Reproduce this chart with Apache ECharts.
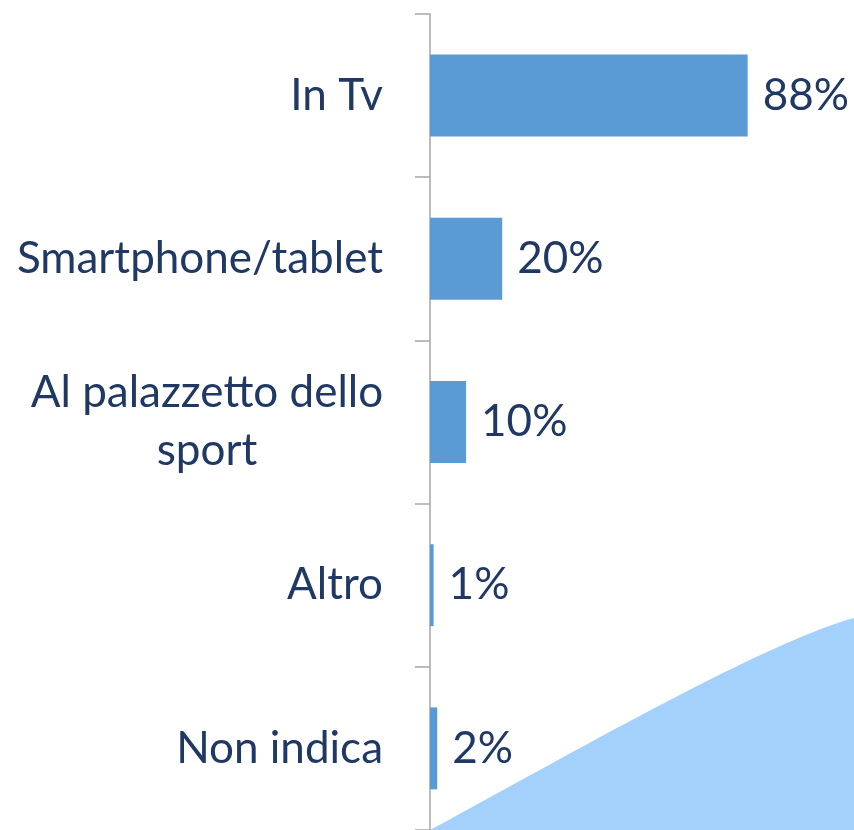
<!DOCTYPE html>
<html>
<head>
<meta charset="utf-8">
<script src="https://cdn.jsdelivr.net/npm/echarts@6/dist/echarts.min.js"></script>
<style>
  html, body { margin: 0; padding: 0; background: #ffffff; }
  #chart { width: 854px; height: 830px; }
</style>
</head>
<body>
<div id="chart"></div>
<script>
var categories = ['In Tv', 'Smartphone/tablet', 'Al palazzetto dello\nsport', 'Altro', 'Non indica'];
var values = [88, 20, 10, 1, 2];

var FONT = 'Lato';
var FONT_SIZE = 44;
var TEXT_COLOR = '#1F3864';

// decorative wave in the bottom right corner (not data)
function wavePoints() {
    var p0 = [430, 830], p1 = [560, 760], p2 = [760, 644], p3 = [854, 618];
    var pts = [];
    for (var i = 0; i <= 40; i++) {
        var t = i / 40, u = 1 - t;
        pts.push([
            u * u * u * p0[0] + 3 * u * u * t * p1[0] + 3 * u * t * t * p2[0] + t * t * t * p3[0],
            u * u * u * p0[1] + 3 * u * u * t * p1[1] + 3 * u * t * t * p2[1] + t * t * t * p3[1]
        ]);
    }
    pts.push([854, 830]);
    return pts;
}

var dom = document.getElementById('chart');
var myChart = echarts.init(dom, null, { renderer: 'canvas' });

var option = {
    backgroundColor: '#ffffff',
    animation: false,
    graphic: [
        {
            type: 'polygon',
            z: -10,
            silent: true,
            shape: { points: wavePoints() },
            style: { fill: '#A3D1FC' }
        }
    ],
    grid: {
        left: 430,
        right: 63,
        top: 14,
        bottom: 0,
        containLabel: false
    },
    xAxis: {
        type: 'value',
        min: 0,
        max: 100,
        show: false
    },
    yAxis: {
        type: 'category',
        inverse: true,
        data: categories,
        axisLine: { show: true, lineStyle: { color: '#A6A6A6', width: 1.5 } },
        axisTick: { show: true, length: 15, lineStyle: { color: '#A6A6A6', width: 1.5 } },
        axisLabel: {
            margin: 47,
            color: TEXT_COLOR,
            fontFamily: FONT,
            fontSize: FONT_SIZE,
            lineHeight: 58,
            formatter: function (val) {
                if (val.indexOf('\n') >= 0) {
                    return val.split('\n').map(function (s) { return '{c|' + s + '}'; }).join('\n');
                }
                return val;
            },
            rich: {
                c: {
                    width: 352,
                    align: 'center',
                    color: TEXT_COLOR,
                    fontFamily: FONT,
                    fontSize: FONT_SIZE,
                    lineHeight: 58
                }
            }
        },
        splitLine: { show: false }
    },
    series: [
        {
            type: 'bar',
            data: values,
            barWidth: 82,
            itemStyle: { color: '#5B9BD5' },
            label: {
                show: true,
                position: 'right',
                distance: 15,
                formatter: '{c}%',
                color: TEXT_COLOR,
                fontFamily: FONT,
                fontSize: FONT_SIZE
            }
        }
    ]
};

myChart.setOption(option);
</script>
</body>
</html>
